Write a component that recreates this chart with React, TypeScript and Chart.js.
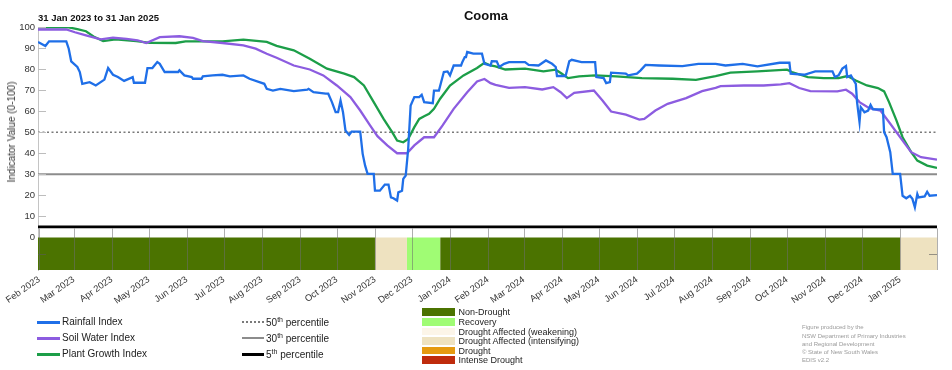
import React, { useEffect, useRef } from 'react';
import { Chart, registerables } from 'chart.js';

Chart.register(...registerables);

// Day offsets from 31 Jan 2023 (day 0) to 31 Jan 2025 (day 731)
const rainfallDays = [0, 6, 9, 23, 25, 27, 32, 34, 36, 42, 47, 54, 57, 61, 65, 70, 77, 78, 87, 89, 93, 97, 99, 103, 114, 115, 119, 125, 126, 133, 134, 142, 150, 156, 167, 172, 180, 184, 186, 191, 197, 208, 219, 220, 224, 234, 236, 239, 242, 244, 246, 248, 250, 253, 255, 262, 264, 266, 268, 273, 274, 278, 282, 285, 287, 289, 292, 293, 296, 297, 299, 301, 303, 306, 310, 312, 314, 321, 322, 326, 330, 333, 335, 338, 344, 345, 347, 348, 349, 354, 361, 363, 368, 369, 373, 375, 379, 383, 396, 399, 407, 413, 418, 421, 422, 429, 432, 434, 442, 453, 454, 460, 462, 465, 466, 478, 480, 487, 490, 494, 505, 524, 537, 551, 559, 573, 585, 603, 611, 612, 623, 632, 646, 648, 651, 654, 657, 658, 661, 665, 666, 668, 669, 672, 675, 677, 679, 687, 688, 690, 693, 695, 701, 703, 706, 709, 711, 713, 715, 716, 721, 723, 725, 731];
const rainfallValues = [92.9, 91, 93.2, 93.2, 89.7, 83.7, 81, 78.6, 73, 73.8, 72.2, 75, 80.5, 77.3, 76.2, 74.4, 76.2, 73.5, 73.5, 80.5, 80.5, 83.3, 82.5, 78.6, 78.6, 79.4, 77, 76.2, 75.4, 75.4, 76.5, 77, 77.3, 76.5, 77, 75.4, 73.8, 73, 70.6, 69.8, 70.6, 69.5, 70.2, 70.6, 69, 68.3, 68.3, 64.3, 59.5, 59.5, 65, 59.5, 50.8, 48.7, 50.3, 50.3, 39.7, 34.1, 30.2, 30.2, 22.2, 22.2, 25.1, 25.1, 19, 18.6, 17.5, 21.4, 22.2, 27.8, 29.4, 42, 62.7, 66.7, 66.7, 67.8, 64.3, 63.8, 69.8, 69.8, 78.6, 78.9, 77, 81.7, 81.7, 83.3, 85.7, 85.7, 88.1, 87.3, 87.3, 82.5, 81.7, 83.8, 83.7, 81, 82.5, 83.3, 83.3, 82, 81.7, 84.1, 82.5, 81, 76.7, 76.7, 83.7, 84.4, 83.3, 83.3, 76.2, 75.7, 73.3, 73.8, 78.3, 77.8, 77, 77.8, 79.4, 82, 81.7, 81.4, 82.5, 82.5, 81.7, 82.5, 81.3, 83, 83, 77.8, 77.3, 78.9, 78.9, 76.2, 77, 80.2, 81.4, 76.2, 77, 73, 64.3, 54.8, 61.9, 59.5, 60.3, 63, 60.8, 60.8, 50, 47.6, 40.5, 30.2, 30.2, 19.8, 18.6, 19.8, 18.3, 14.3, 20.6, 19, 19.5, 21.7, 19.8, 20.1];

const soilDays = [0, 23, 30, 39, 51, 61, 72, 81, 88, 99, 115, 126, 134, 150, 167, 177, 186, 194, 208, 221, 232, 243, 254, 262, 270, 276, 284, 292, 300, 306, 314, 322, 329, 338, 349, 357, 363, 368, 372, 383, 396, 410, 419, 425, 430, 436, 452, 459, 466, 478, 489, 493, 502, 512, 527, 540, 551, 555, 574, 590, 604, 611, 619, 628, 650, 657, 662, 668, 676, 685, 693, 702, 710, 718, 731];
const soilValues = [98.8, 98.8, 97.5, 96, 94.1, 94.9, 94.4, 93.7, 92.4, 95.2, 95.6, 94.8, 93.3, 92.4, 91.3, 89.7, 87.3, 85.4, 81.7, 79.8, 77, 72.2, 66.7, 60.3, 53.2, 48.1, 43.7, 40, 40, 43.7, 47.6, 47.6, 53.2, 61.1, 69, 74.1, 75.3, 73.3, 72.5, 71.1, 71.4, 70.3, 71.4, 69, 66.2, 68.7, 69.8, 65.1, 59.8, 58.3, 56, 56.3, 60.3, 63.5, 66.2, 69.5, 71.1, 71.9, 72.2, 72.2, 72.7, 73.3, 71, 69.5, 69.4, 70.2, 68.3, 64.3, 61.4, 60.3, 54, 46.8, 40.5, 38.1, 37];

const plantDays = [0, 25, 32, 39, 46, 53, 63, 80, 91, 112, 120, 150, 167, 186, 194, 208, 221, 235, 249, 257, 265, 273, 281, 288, 292, 297, 301, 306, 310, 314, 318, 322, 327, 335, 346, 357, 363, 368, 372, 380, 396, 411, 421, 426, 431, 440, 453, 470, 491, 516, 535, 551, 563, 585, 609, 613, 626, 639, 651, 658, 665, 674, 683, 688, 692, 698, 703, 710, 715, 723, 731];
const plantValues = [99.8, 99.8, 99, 98, 95.2, 93.3, 94.1, 93.3, 92.5, 92.4, 93.2, 93.2, 94, 92.9, 91, 88.9, 84.9, 80.2, 77.8, 76.2, 72.2, 64.3, 56.3, 50, 46, 45.2, 46.8, 52.4, 56.3, 57.6, 58.7, 61.1, 65.9, 72.2, 77, 80.5, 83, 81.7, 81.3, 79.8, 80.2, 78.9, 79.7, 77.8, 75.7, 76.5, 77, 76.5, 75.7, 75.4, 74.9, 76.7, 78.3, 78.9, 79.7, 78.6, 76.2, 75.7, 75.7, 76.7, 74.6, 72.2, 71, 69.4, 64.3, 55.6, 47.6, 40.5, 36.5, 34.1, 33];

const percentileValues = [50, 30, 5];
const percentileNames = ['50th percentile', '30th percentile', '5th percentile'];

const droughtStarts = [0, 274, 300, 327, 701];
const droughtEnds = [274, 300, 327, 701, 731];
const droughtStates = ['Non-Drought', 'Drought Affected (intensifying)', 'Recovery', 'Non-Drought', 'Drought Affected (intensifying)'];

const monthTickDays = [1, 29, 60, 90, 121, 151, 182, 213, 243, 274, 304, 335, 366, 395, 426, 456, 487, 517, 548, 579, 609, 640, 670, 701];
const monthTickLabels = ['Feb 2023', 'Mar 2023', 'Apr 2023', 'May 2023', 'Jun 2023', 'Jul 2023', 'Aug 2023', 'Sep 2023', 'Oct 2023', 'Nov 2023', 'Dec 2023', 'Jan 2024', 'Feb 2024', 'Mar 2024', 'Apr 2024', 'May 2024', 'Jun 2024', 'Jul 2024', 'Aug 2024', 'Sep 2024', 'Oct 2024', 'Nov 2024', 'Dec 2024', 'Jan 2025'];
const yTickValues = [0, 10, 20, 30, 40, 50, 60, 70, 80, 90, 100];

const X_MIN = 0;
const X_MAX = 731;
const Y_MIN = -15.5;
const Y_MAX = 100;

const droughtLegend = [
  { name: 'Non-Drought', color: '#4b7300' },
  { name: 'Recovery', color: '#a0fc74' },
  { name: 'Drought Affected (weakening)', color: '#fcf5e8' },
  { name: 'Drought Affected (intensifying)', color: '#eee2c0' },
  { name: 'Drought', color: '#e59a10' },
  { name: 'Intense Drought', color: '#bf2b0c' },
];
const droughtColor: Record<string, string> = {};
droughtLegend.forEach((d) => (droughtColor[d.name] = d.color));

const seriesLegend = [
  { name: 'Rainfall Index', color: '#1f6fe8' },
  { name: 'Soil Water Index', color: '#8c5ce0' },
  { name: 'Plant Growth Index', color: '#1c9e48' },
];

const FONT = '"Liberation Sans", Arial, sans-serif';

const toPoints = (xs: number[], ys: number[]) => xs.map((x, i) => ({ x, y: ys[i] }));

const decorPlugin = {
  id: 'decor',
  afterDatasetsDraw(chart: any) {
    const { ctx, chartArea, scales } = chart;
    const xs = scales.x;
    const ys = scales.y;
    ctx.save();
    const top = ys.getPixelForValue(5) + 1.5;
    const bottom = chartArea.bottom;
    ctx.strokeStyle = 'rgba(110,110,110,0.55)';
    ctx.lineWidth = 1;
    const lines = [...monthTickDays, X_MAX];
    lines.forEach((d) => {
      const px = Math.round(xs.getPixelForValue(d)) + 0.5;
      ctx.beginPath();
      ctx.moveTo(px, top);
      ctx.lineTo(px, bottom);
      ctx.stroke();
    });
    ctx.strokeStyle = '#bdbdbd';
    yTickValues.forEach((v) => {
      if (v === 0) return;
      const py = Math.round(ys.getPixelForValue(v)) + 0.5;
      ctx.beginPath();
      ctx.moveTo(chartArea.left, py);
      ctx.lineTo(chartArea.left + 8, py);
      ctx.stroke();
    });
    ctx.strokeStyle = 'rgba(90,90,90,0.6)';
    const pm = Math.round(ys.getPixelForValue((0 + Y_MIN) / 2)) + 0.5;
    ctx.beginPath();
    ctx.moveTo(chartArea.left, pm);
    ctx.lineTo(chartArea.left + 8, pm);
    ctx.moveTo(chartArea.right - 8, pm);
    ctx.lineTo(chartArea.right, pm);
    ctx.stroke();
    ctx.restore();
  },
};

function Txt(props: { x: number; y: number; size: number; bold?: boolean; color?: string; children: any; anchor?: 'left' | 'center' }) {
  const { x, y, size, bold, color, children, anchor } = props;
  return (
    <div
      style={{
        position: 'absolute',
        left: x,
        top: y,
        transform: anchor === 'center' ? 'translate(-50%,-50%)' : 'translateY(-50%)',
        fontSize: size,
        fontWeight: bold ? 700 : 400,
        color: color || '#222',
        whiteSpace: 'nowrap',
        lineHeight: 1,
        fontFamily: FONT,
      }}
    >
      {children}
    </div>
  );
}

export default function App() {
  const canvasRef = useRef<HTMLCanvasElement | null>(null);

  useEffect(() => {
    document.body.style.margin = '0';
    const canvas = canvasRef.current;
    if (!canvas) return;

    const seriesSets = [
      { label: 'Rainfall Index', data: toPoints(rainfallDays, rainfallValues), color: seriesLegend[0].color },
      { label: 'Soil Water Index', data: toPoints(soilDays, soilValues), color: seriesLegend[1].color },
      { label: 'Plant Growth Index', data: toPoints(plantDays, plantValues), color: seriesLegend[2].color },
    ].map((s) => ({
      type: 'line' as const,
      label: s.label,
      data: s.data,
      borderColor: s.color,
      backgroundColor: s.color,
      borderWidth: 2.3,
      pointRadius: 0,
      tension: 0,
      fill: false,
    }));

    const pctStyles = [
      { color: '#7a7a7a', width: 1.6, dash: [2, 2.5] },
      { color: '#8c8c8c', width: 2, dash: [] as number[] },
      { color: '#000000', width: 2.6, dash: [] as number[] },
    ];
    const pctSets = percentileValues.map((v, i) => ({
      type: 'line' as const,
      label: percentileNames[i],
      data: [
        { x: X_MIN, y: v },
        { x: X_MAX, y: v },
      ],
      borderColor: pctStyles[i].color,
      borderWidth: pctStyles[i].width,
      borderDash: pctStyles[i].dash,
      pointRadius: 0,
      fill: false,
    }));

    const droughtSets = droughtStates.map((st, i) => ({
      type: 'line' as const,
      label: st,
      data: [
        { x: droughtStarts[i], y: 0 },
        { x: droughtEnds[i], y: 0 },
      ],
      borderColor: 'transparent',
      borderWidth: 0,
      backgroundColor: droughtColor[st],
      pointRadius: 0,
      fill: { value: Y_MIN },
    }));

    const chart = new Chart(canvas, {
      type: 'line',
      data: { datasets: [...seriesSets, ...pctSets, ...droughtSets] as any },
      options: {
        animation: false,
        responsive: false,
        devicePixelRatio: 1,
        layout: { padding: { left: 8, right: 15, top: 27, bottom: 50 } },
        plugins: {
          legend: { display: false },
          tooltip: { enabled: false },
          title: { display: false },
        },
        scales: {
          x: {
            type: 'linear',
            min: X_MIN,
            max: X_MAX,
            afterBuildTicks: (scale: any) => {
              scale.ticks = monthTickDays.map((d) => ({ value: d }));
            },
            afterFit: (scale: any) => {
              scale.height = 50;
            },
            grid: { display: false, drawTicks: false },
            border: { display: false },
            ticks: {
              autoSkip: false,
              minRotation: 35,
              maxRotation: 35,
              padding: 4,
              color: '#333',
              font: { family: FONT, size: 9.3 },
              callback: (value: any) => {
                const idx = monthTickDays.indexOf(Number(value));
                return idx >= 0 ? monthTickLabels[idx] : '';
              },
            },
          },
          y: {
            type: 'linear',
            min: Y_MIN,
            max: Y_MAX,
            afterBuildTicks: (scale: any) => {
              scale.ticks = yTickValues.map((v) => ({ value: v }));
            },
            afterFit: (scale: any) => {
              scale.width = 30;
            },
            grid: { display: false, drawTicks: false },
            border: { display: true, color: '#c4c4c4', width: 1 },
            ticks: {
              padding: 3,
              color: '#333',
              font: { family: FONT, size: 9.5 },
              callback: (value: any) => String(value),
            },
          },
        },
      },
      plugins: [decorPlugin],
    });

    return () => chart.destroy();
  }, []);

  const legendRows = [322, 338, 354];
  const pctSample = [
    { borderTop: '2px dotted #7a7a7a' },
    { borderTop: '2.5px solid #8c8c8c' },
    { borderTop: '3px solid #000' },
  ];
  const pctLabels = ['50', '30', '5'];
  const droughtRowTops = [308.3, 318, 327.6, 337.2, 346.7, 356.3];
  const credits = [
    'Figure produced by the',
    'NSW Department of Primary Industries',
    'and Regional Development',
    '\u00a9 State of New South Wales',
    'EDIS v2.2',
  ];

  return (
    <div style={{ position: 'relative', width: 952, height: 370, background: '#fff', overflow: 'hidden' }}>
      <canvas ref={canvasRef} width={952} height={370} style={{ position: 'absolute', left: 0, top: 0, width: 952, height: 370 }} />
      <Txt x={486} y={15} size={13} bold anchor="center" color="#111">Cooma</Txt>
      <Txt x={38} y={17.5} size={9.5} bold color="#111">31 Jan 2023 to 31 Jan 2025</Txt>
      <div
        style={{
          position: 'absolute',
          left: 12,
          top: 132,
          transform: 'translate(-50%,-50%) rotate(-90deg)',
          fontSize: 10,
          fontFamily: FONT,
          color: '#333',
          whiteSpace: 'nowrap',
          lineHeight: 1,
        }}
      >
        Indicator Value (0-100)
      </div>

      {seriesLegend.map((s, i) => (
        <React.Fragment key={s.name}>
          <div style={{ position: 'absolute', left: 37, top: legendRows[i] - 1.5, width: 23, height: 3, background: s.color }} />
          <Txt x={62} y={legendRows[i]} size={10} color="#222">{s.name}</Txt>
        </React.Fragment>
      ))}

      {pctLabels.map((p, i) => (
        <React.Fragment key={p}>
          <div style={{ position: 'absolute', left: 242, top: legendRows[i] - 1, width: 22, height: 0, ...pctSample[i] }} />
          <Txt x={266} y={legendRows[i] + 0.5} size={10} color="#222">
            {p}
            <span style={{ fontSize: 7, position: 'relative', top: -4 }}>th</span> percentile
          </Txt>
        </React.Fragment>
      ))}

      {droughtLegend.map((d, i) => (
        <React.Fragment key={d.name}>
          <div style={{ position: 'absolute', left: 422, top: droughtRowTops[i], width: 33, height: 7.6, background: d.color }} />
          <Txt x={458.5} y={droughtRowTops[i] + 4} size={9} color="#222">{d.name}</Txt>
        </React.Fragment>
      ))}

      {credits.map((c, i) => (
        <Txt key={c} x={802} y={327.3 + i * 8.25} size={6} color="#9a9a9a">{c}</Txt>
      ))}
    </div>
  );
}
